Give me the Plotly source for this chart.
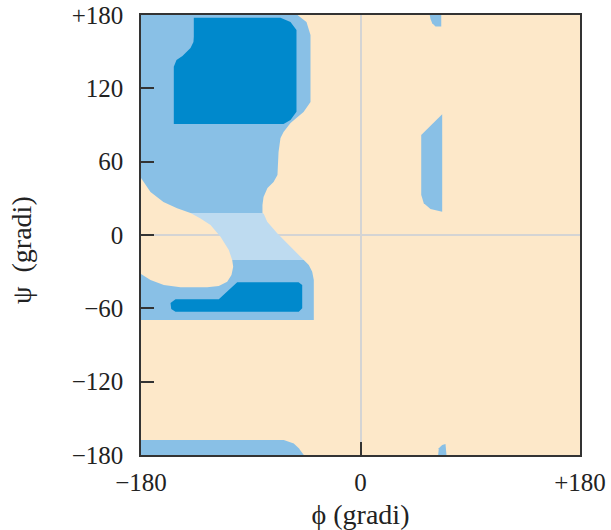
import plotly.graph_objects as go

# Region outlines (phi, psi in degrees)
upper_phi = [-180, -51.7, -44.3, -41, -41, -46.7, -57.4, -63.1, -65.6, -67.2, -68.1, -71.3, -76.3, -79.5, -80.4, -80.4, -139.4, -150.4, -161.6, -172.2, -180]
upper_psi = [180, 180, 174.3, 163.7, 108.8, 100.7, 91.7, 84.3, 79.4, 67.9, 49.1, 43.4, 38.5, 31.1, 24.5, 18, 18, 21.8, 27, 35.2, 46.6]

band_phi = [-139.4, -80.4, -79.3, -76.5, -68.3, -57.4, -46.5, -105.2, -108, -114.8, -123, -131.2]
band_psi = [18, 18, 17.2, 10.9, 1.4, -9.6, -20.5, -20.5, -12.3, -1.4, 8.2, 13.5]

lower_phi = [-105.2, -46.5, -42.4, -39.6, -38.3, -38.3, -180, -180, -172.2, -161.3, -147.6, -125.7, -116.2, -109.3, -105.8, -104.4]
lower_psi = [-20.5, -20.5, -24.5, -30, -36.8, -69.6, -69.6, -31.9, -36.8, -40.9, -42.8, -42.8, -41.7, -38.2, -32.7, -25.9]

beta_core_phi = [-136.7, -65.6, -57.4, -52.5, -52.5, -57.4, -63.1, -153.1, -153.1, -150.9, -146, -139.4, -137, -136.7]
beta_core_psi = [177.8, 177.8, 174.3, 167.8, 100.9, 94.1, 90.8, 90.8, 137.7, 143.2, 146.5, 153, 158, 162.2]

alpha_core_phi = [-101.1, -50.8, -47.8, -47.8, -50.6, -151.7, -155.2, -155.8, -151.7, -116.2]
alpha_core_psi = [-38.7, -38.7, -40.9, -60, -62.8, -62.8, -60.6, -55.6, -52.6, -52.6]

bottom_phi = [-180, -62.9, -54.7, -50.6, -46.5, -180]
bottom_psi = [-167.8, -167.8, -170.5, -174.5, -180, -180]

left_top_phi = [56.8, 66.2, 66.2, 61.5, 58.8, 57.4]
left_top_psi = [180, 180, 170.5, 170.5, 173.2, 176.7]

left_mid_phi = [67, 49.8, 49.8, 51.9, 57.4, 67]
left_mid_psi = [98.8, 81.8, 32.7, 25.9, 21.3, 19.1]

left_bot_phi = [63.7, 64.2, 67, 69.7, 70.5]
left_bot_psi = [-180, -174.5, -171.8, -171, -180]

x_ticks = [-180, 0, 180]
x_labels = ["\u2212180", "0", "+180"]
y_ticks = [-180, -120, -60, 0, 60, 120, 180]
y_labels = ["\u2212180", "\u2212120", "\u221260", "0", "60", "120", "+180"]

CREAM = "#FDE8C9"
LIGHT = "#89C0E6"
PALE = "#BEDBF0"
DARK = "#0089CC"

regions = [
    (upper_phi, upper_psi, LIGHT),
    (band_phi, band_psi, PALE),
    (lower_phi, lower_psi, LIGHT),
    (bottom_phi, bottom_psi, LIGHT),
    (left_top_phi, left_top_psi, LIGHT),
    (left_mid_phi, left_mid_psi, LIGHT),
    (left_bot_phi, left_bot_psi, LIGHT),
    (beta_core_phi, beta_core_psi, DARK),
    (alpha_core_phi, alpha_core_psi, DARK),
]

fig = go.Figure()
for px, py, col in regions:
    fig.add_trace(go.Scatter(
        x=px + [px[0]], y=py + [py[0]], mode="lines", fill="toself",
        fillcolor=col, line=dict(width=0, color=col), hoverinfo="skip",
        showlegend=False))

font = dict(family="Liberation Serif, Times New Roman, serif", size=25, color="#222")
title_font = dict(family="Liberation Serif, Times New Roman, serif", size=28, color="#222")
axis_common = dict(
    range=[-180, 180], showgrid=False, zeroline=True, zerolinecolor="#D4D4D4",
    zerolinewidth=1.5, showline=True, linecolor="#333", linewidth=1.5, mirror=True,
    ticks="inside", ticklen=13, tickcolor="#333", tickwidth=1.5,
    layer="above traces", tickfont=font, fixedrange=True, automargin=False,
)
fig.update_xaxes(**axis_common, tickvals=x_ticks, ticktext=x_labels,
                 ticklabelstandoff=4,
                 title=dict(text="\u03d5 (gradi)", font=title_font, standoff=11))
fig.update_yaxes(**axis_common, tickvals=y_ticks, ticktext=y_labels,
                 ticklabelstandoff=11)

fig.add_annotation(
    text="\u03c8\u00a0\u00a0(gradi)", xref="paper", yref="paper",
    x=-0.271, y=0.466, xanchor="center", yanchor="middle",
    textangle=-90, showarrow=False, font=title_font)

fig.update_layout(
    width=611, height=530,
    margin=dict(l=141, r=31, t=15, b=75, autoexpand=False),
    plot_bgcolor=CREAM, paper_bgcolor="white",
    font=font,
)
fig.write_html("out.html")
